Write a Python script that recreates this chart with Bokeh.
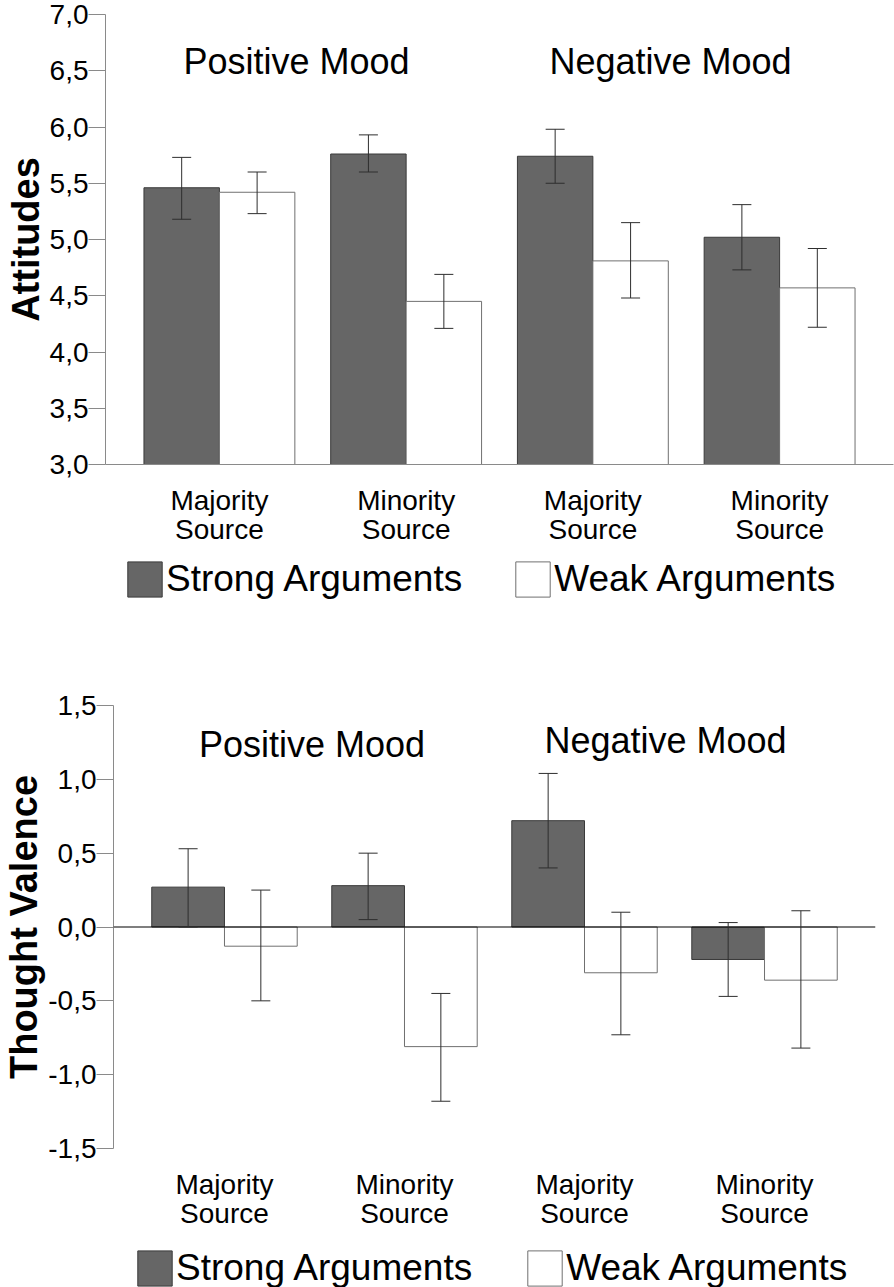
from bokeh.plotting import figure
from bokeh.models import (ColumnDataSource, FixedTicker, Whisker, TeeHead, Span,
                          Label, Legend, LegendItem, Range1d)
from bokeh.layouts import column
from bokeh.embed import file_html
from bokeh.resources import INLINE

# ---------------- data ----------------
categories = ["Majority\nSource", "Minority\nSource", "Majority\nSource", "Minority\nSource"]
moods = ["Positive Mood", "Negative Mood"]
series = ["Strong Arguments", "Weak Arguments"]

# Chart 1: Attitudes
att_strong = [5.46, 5.76, 5.74, 5.02]
att_strong_lo = [5.18, 5.60, 5.50, 4.73]
att_strong_hi = [5.73, 5.93, 5.98, 5.31]
att_weak = [5.42, 4.45, 4.81, 4.57]
att_weak_lo = [5.23, 4.21, 4.48, 4.22]
att_weak_hi = [5.60, 4.69, 5.15, 4.92]
att_ticks = [3.0, 3.5, 4.0, 4.5, 5.0, 5.5, 6.0, 6.5, 7.0]
att_tick_labels = ["3,0", "3,5", "4,0", "4,5", "5,0", "5,5", "6,0", "6,5", "7,0"]

# Chart 2: Thought Valence
tv_strong = [0.27, 0.28, 0.72, -0.22]
tv_strong_lo = [0.00, 0.05, 0.40, -0.47]
tv_strong_hi = [0.53, 0.50, 1.04, 0.03]
tv_weak = [-0.13, -0.81, -0.31, -0.36]
tv_weak_lo = [-0.50, -1.18, -0.73, -0.82]
tv_weak_hi = [0.25, -0.45, 0.10, 0.11]
tv_ticks = [-1.5, -1.0, -0.5, 0.0, 0.5, 1.0, 1.5]
tv_tick_labels = ["-1,5", "-1,0", "-0,5", "0,0", "0,5", "1,0", "1,5"]

# ---------------- style ----------------
FONT = "Liberation Sans"
STRONG_FILL = "#666666"
STRONG_LINE = "#3a3a3a"
WEAK_FILL = "#ffffff"
WEAK_LINE = "#707070"
ERR_COLOR = "#2e2e2e"
AXIS_COLOR = "#8a8a8a"
BAR_W = 0.404
W = 894


def sources(strong, s_lo, s_hi, weak, w_lo, w_hi):
    idx = list(range(len(categories)))
    src_s = ColumnDataSource(dict(x=[i - BAR_W / 2 for i in idx], top=strong, lo=s_lo, hi=s_hi))
    src_w = ColumnDataSource(dict(x=[i + BAR_W / 2 for i in idx], top=weak, lo=w_lo, hi=w_hi))
    return src_s, src_w


def make_chart(title, height, frame, x_range, y_range, ticks, tick_labels, base,
               src_s, src_w, mood_pos, show_xaxis_line, zero_line):
    left, top, right, bottom = frame
    p = figure(width=W, height=height, x_range=Range1d(*x_range),
               y_range=Range1d(*y_range), output_backend="svg",
               toolbar_location=None, frame_align=False,
               min_border_left=left, min_border_right=W - right,
               min_border_top=top, min_border_bottom=height - bottom)
    p.outline_line_color = None
    p.grid.visible = False
    p.background_fill_color = "white"
    p.border_fill_color = "white"

    p.vbar(x="x", top="top", bottom=base, width=BAR_W, source=src_s,
           fill_color=STRONG_FILL, line_color=STRONG_LINE, line_width=1)
    p.vbar(x="x", top="top", bottom=base, width=BAR_W, source=src_w,
           fill_color=WEAK_FILL, line_color=WEAK_LINE, line_width=1)

    if zero_line:
        p.add_layout(Span(location=0, dimension="width", line_color="#000000",
                          line_width=1.2))

    for src in (src_s, src_w):
        wk = Whisker(source=src, base="x", upper="hi", lower="lo",
                     line_color=ERR_COLOR, line_width=1, level="overlay",
                     upper_head=TeeHead(size=19, line_color=ERR_COLOR, line_width=1),
                     lower_head=TeeHead(size=19, line_color=ERR_COLOR, line_width=1))
        p.add_layout(wk)

    # y axis
    ya = p.yaxis[0]
    ya.ticker = FixedTicker(ticks=ticks)
    ya.major_label_overrides = {t: l for t, l in zip(ticks, tick_labels)}
    ya.axis_line_color = AXIS_COLOR
    ya.major_tick_line_color = AXIS_COLOR
    ya.major_tick_out = 17
    ya.major_tick_in = 0
    ya.minor_tick_line_color = None
    ya.major_label_standoff = 0
    ya.major_label_text_font = FONT
    ya.major_label_text_font_size = "28px"
    ya.major_label_text_color = "#000000"
    ya.axis_label = title
    ya.axis_label_standoff = 0
    ya.axis_label_text_font = FONT
    ya.axis_label_text_font_size = "38px"
    ya.axis_label_text_font_style = "bold"
    ya.axis_label_text_color = "#000000"

    # x axis
    idx = list(range(len(categories)))
    xa = p.xaxis[0]
    xa.ticker = FixedTicker(ticks=idx)
    xa.major_label_overrides = {i: c for i, c in zip(idx, categories)}
    xa.axis_line_color = AXIS_COLOR if show_xaxis_line else None
    xa.major_tick_line_color = None
    xa.minor_tick_line_color = None
    xa.major_tick_out = 0
    xa.major_tick_in = 0
    xa.major_label_standoff = 20
    xa.major_label_text_font = FONT
    xa.major_label_text_font_size = "28px"
    xa.major_label_text_color = "#000000"
    xa.major_label_text_line_height = 0.95

    # mood titles
    for m, (mx, my) in zip(moods, mood_pos):
        p.add_layout(Label(x=mx, y=my, text=m, text_font=FONT,
                           text_font_size="36px", text_align="center",
                           text_baseline="middle", text_color="#000000"))
    return p


def make_legend(height, loc, spacing, src_s, src_w):
    lp = figure(width=W, height=height, x_range=Range1d(100, 101), y_range=Range1d(100, 101),
                output_backend="svg", toolbar_location=None, frame_align=False,
                x_axis_location=None, y_axis_location=None,
                min_border_left=0, min_border_right=0, min_border_top=0,
                min_border_bottom=0)
    lp.outline_line_color = None
    lp.grid.visible = False
    # same data as the chart, kept out of view: only the legend swatches show
    rs = lp.vbar(x="x", top="top", width=BAR_W, source=src_s, fill_color=STRONG_FILL,
                 line_color=STRONG_LINE, line_width=1)
    rw = lp.vbar(x="x", top="top", width=BAR_W, source=src_w, fill_color=WEAK_FILL,
                 line_color=WEAK_LINE, line_width=1)
    legend = Legend(items=[LegendItem(label=series[0], renderers=[rs]),
                           LegendItem(label=series[1], renderers=[rw])],
                    orientation="horizontal", location=loc,
                    glyph_width=43, glyph_height=44, label_standoff=0,
                    spacing=spacing, padding=0, margin=0,
                    border_line_color=None, background_fill_alpha=0,
                    label_text_font=FONT, label_text_font_size="37px",
                    label_text_color="#000000")
    lp.add_layout(legend)
    return lp


s1, w1 = sources(att_strong, att_strong_lo, att_strong_hi, att_weak, att_weak_lo, att_weak_hi)
s2, w2 = sources(tv_strong, tv_strong_lo, tv_strong_hi, tv_weak, tv_weak_lo, tv_weak_hi)

p1 = make_chart("Attitudes", 555, (105, 14, 893, 464), (-0.61, 3.61), (3.0, 7.0),
                att_ticks, att_tick_labels, 3.0, s1, w1,
                mood_pos=[(0.413, 6.58), (2.416, 6.58)],
                show_xaxis_line=True, zero_line=False)
leg1 = make_legend(57, (123, 11), 49, s1, w1)

p2 = make_chart("Thought Valence", 624, (113, 93, 875, 536), (-0.6165, 3.6165),
                (-1.5, 1.5), tv_ticks, tv_tick_labels, 0.0, s2, w2,
                mood_pos=[(0.486, 1.236), (2.450, 1.263)],
                show_xaxis_line=False, zero_line=True)
leg2 = make_legend(51, (133, -3), 51, s2, w2)

layout = column(p1, leg1, p2, leg2, spacing=0)
open("out.html", "w").write(file_html(layout, INLINE))
